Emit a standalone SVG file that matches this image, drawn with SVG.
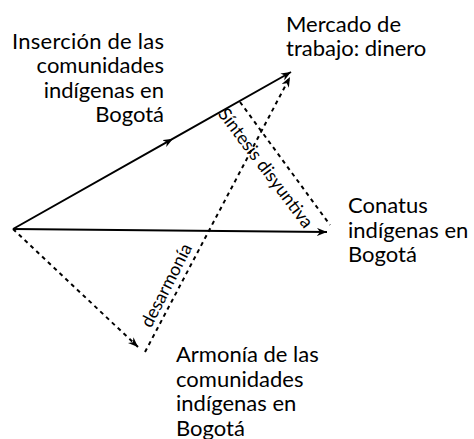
<svg xmlns="http://www.w3.org/2000/svg" width="474" height="439" viewBox="0 0 474 439">
<style>
.t{font-family:Lato,"Liberation Sans",sans-serif;font-size:22px;fill:#000}
.s{font-family:Lato,"Liberation Sans",sans-serif;font-size:18px;fill:#000}
.ln{stroke:#000;stroke-width:2;fill:none}
.d{stroke-dasharray:4 4}
</style>
<defs>
<marker id="ah" markerUnits="userSpaceOnUse" markerWidth="12" markerHeight="10" refX="10" refY="4" orient="auto" viewBox="0 0 12 10">
<path d="M0,0 L10,4 L0,8 L3,4 z" fill="#000"/>
</marker>
</defs>
<rect width="474" height="439" fill="#fff"/>
<g id="connectors">
<polyline class="ln" points="13,229 173,138.7 291,72" marker-mid="url(#ah)" marker-end="url(#ah)"/>
<line class="ln" x1="13" y1="229" x2="327" y2="232" marker-end="url(#ah)"/>
<line class="ln d" x1="13" y1="229" x2="138" y2="347" marker-end="url(#ah)"/>
<line class="ln d" x1="145" y1="352" x2="290" y2="77" marker-end="url(#ah)"/>
<line class="ln d" x1="240" y1="102" x2="330" y2="225"/>
<text class="s" transform="translate(266.5,167.5) rotate(53)" text-anchor="middle" dominant-baseline="central">Síntesis disyuntiva</text>
<text class="s" transform="translate(165.5,285) rotate(-63)" text-anchor="middle" dominant-baseline="central">desarmonía</text>
</g>
<g id="insercion">
<text class="t" text-anchor="end"><tspan x="164" y="48.5" textLength="152">Inserción de las</tspan><tspan x="164" y="73">comunidades</tspan><tspan x="164" y="97.5">indígenas en</tspan><tspan x="164" y="122">Bogotá</tspan></text>
</g>
<g id="mercado">
<text class="t"><tspan x="286" y="31.5">Mercado de</tspan><tspan x="286" y="56">trabajo: dinero</tspan></text>
</g>
<g id="conatus">
<text class="t"><tspan x="348" y="213">Conatus</tspan><tspan x="348" y="237.5">indígenas en</tspan><tspan x="348" y="262">Bogotá</tspan></text>
</g>
<g id="armonia">
<text class="t"><tspan x="176" y="362">Armonía de las</tspan><tspan x="176" y="386.5">comunidades</tspan><tspan x="176" y="411">indígenas en</tspan><tspan x="176" y="435.5">Bogotá</tspan></text>
</g>
</svg>
